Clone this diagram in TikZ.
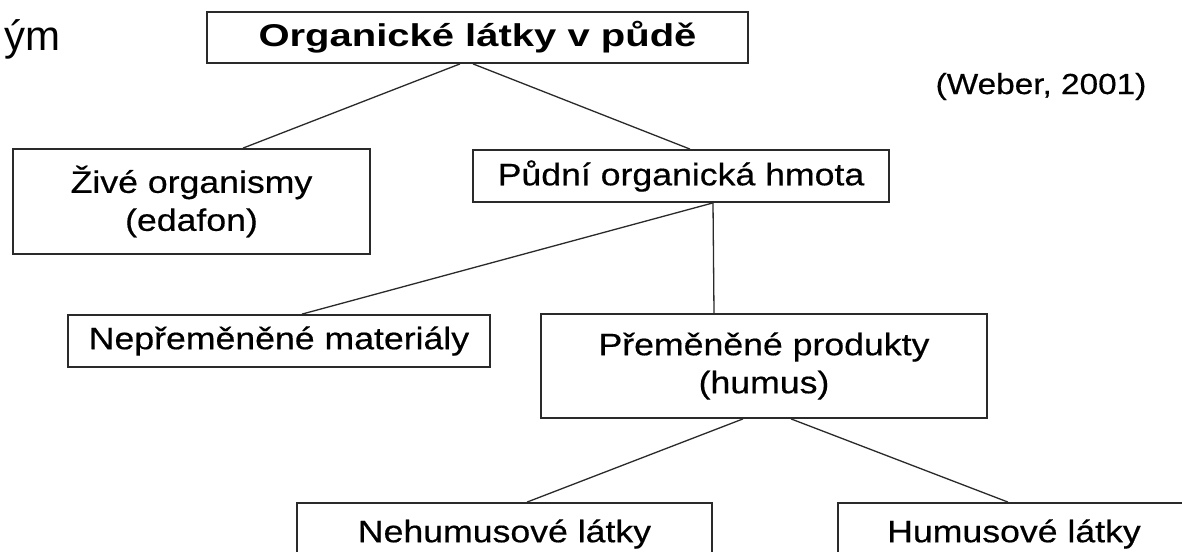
\documentclass[tikz,border=0pt]{standalone}
\usepackage{fontspec}
\setmainfont[FakeStretch=1.15,FakeBold=0.5]{Liberation Sans}
\newfontfamily\titlefont[FakeStretch=1.27]{Liberation Sans}
\newfontfamily\slidefont{Liberation Sans}
\usetikzlibrary{positioning}
\definecolor{edge}{HTML}{2A2A2A}

\begin{document}
\begin{tikzpicture}[
  x=1pt,y=-1pt,
  font=\fontsize{31}{38}\selectfont,
  box/.style={draw=edge,line width=1.8pt,fill=white,inner sep=0pt,align=center},
  link/.style={draw=edge,line width=1.3pt},
  note/.style={inner sep=0pt,anchor=base},
]
\clip (0,0) rectangle (1182,551);
\fill[white] (0,0) rectangle (1182,551);

% ============ top: title, source ============
\node[note,anchor=base east,font=\slidefont\fontsize{42}{50}\selectfont] (frag) at (61,51) {ým};
\node[box,font=\titlefont\bfseries\fontsize{31.5}{38}\selectfont,minimum width=541pt,minimum height=51pt] (organic) at (477.5,37.5) {Organické látky v půdě};
\node[note,font=\fontsize{29}{35}\selectfont] (source) at (1041,94) {(Weber, 2001)};

% ============ level 1 ============
\node[box,minimum width=357pt,minimum height=105pt] (zive) at (191.5,201.5) {Živé organismy\\(edafon)};
\node[box,minimum width=416pt,minimum height=52pt] (pudni) at (681,176) {Půdní organická hmota};
\draw[link] ([xshift=-17.5pt]organic.south) -- ([xshift=51.5pt]zive.north);
\draw[link] ([xshift=-4.5pt]organic.south) -- ([xshift=9pt]pudni.north);

% ============ level 2 ============
\node[box,minimum width=422pt,minimum height=52pt] (neprem) at (279,341) {Nepřeměněné materiály};
\node[box,minimum width=446pt,minimum height=104pt] (prem) at (764,366) {Přeměněné produkty\\(humus)};
\draw[link] ([xshift=32pt]pudni.south) -- ([xshift=23pt]neprem.north);
\draw[link] ([xshift=32pt]pudni.south) -- ([xshift=-50pt]prem.north);

% ============ level 3 ============
\node[box,minimum width=415pt,minimum height=62pt] (nehum) at (504.5,534) {Nehumusové látky};
\node[box,minimum width=352pt,minimum height=62pt] (hum) at (1014,534) {Humusové látky};
\draw[link] ([xshift=-21pt]prem.south) -- ([xshift=22.5pt]nehum.north);
\draw[link] ([xshift=27pt]prem.south) -- ([xshift=-6pt]hum.north);

\end{tikzpicture}
\end{document}
